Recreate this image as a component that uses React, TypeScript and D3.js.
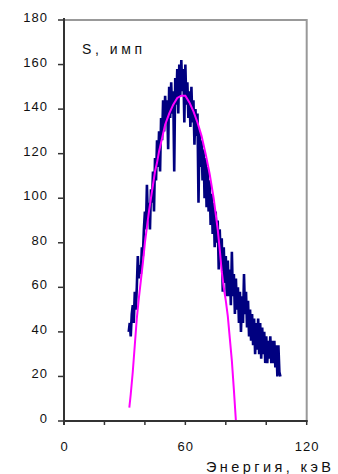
import { useEffect, useRef } from 'react';
import * as d3 from 'd3';

// measured spectrum, counts per 0.5 keV step starting at 32 keV
const spectrumStart = 32;
const spectrumStep = 0.5;
const spectrumCounts = [
  40, 44, 38, 48, 52, 44, 58, 50, 60, 74,
  64, 70, 66, 78, 74, 86, 94, 86, 106, 90,
  98, 86, 104, 98, 112, 94, 118, 108, 126, 114,
  130, 112, 136, 126, 144, 130, 146, 134, 144, 122,
  150, 136, 152, 138, 148, 112, 154, 142, 158, 138,
  160, 146, 162, 148, 158, 134, 160, 142, 152, 136,
  148, 132, 150, 134, 144, 124, 140, 128, 138, 98,
  130, 114, 126, 108, 122, 100, 118, 96, 114, 94,
  108, 88, 102, 84, 98, 78, 94, 80, 90, 68,
  86, 72, 82, 58, 78, 62, 74, 56, 72, 56,
  68, 52, 76, 56, 66, 48, 64, 50, 60, 44,
  58, 40, 56, 44, 66, 48, 58, 42, 54, 38,
  50, 36, 48, 34, 46, 30, 44, 32, 46, 30,
  44, 28, 42, 30, 40, 26, 38, 26, 36, 28,
  38, 26, 36, 26, 36, 24, 34, 20, 34, 22,
  20,
];

// fitted curve
const fitEnergy = [32.3, 33, 34, 35, 36, 37, 38, 39, 40, 41, 42, 43, 44, 45, 46, 47, 48, 49, 50, 52, 54, 56, 58, 60, 62, 64, 66, 68, 70, 72, 74, 76, 77, 78, 79, 80, 81, 82, 83, 84, 85];
const fitCounts = [6, 12, 22, 34, 46, 55, 63, 71, 80, 87, 94, 100, 106, 112, 116, 121, 125, 129, 133, 138, 142, 145, 146, 146, 143, 139, 134, 128, 120, 111, 100, 86, 77, 67, 60, 54, 47, 37, 27, 14, 0];

const yTicks = [0, 20, 40, 60, 80, 100, 120, 140, 160, 180];
const xTicks = [0, 20, 40, 60, 80, 100, 120];
const xLabels = [0, 60, 120];

const App = () => {
  const ref = useRef<SVGSVGElement | null>(null);

  useEffect(() => {
    if (!ref.current) return;
    const svg = d3.select(ref.current);
    svg.selectAll('*').remove();

    const left = 64, right = 306.7, top = 20, bottom = 421;
    const x = d3.scaleLinear().domain([0, 120]).range([left, right]);
    const y = d3.scaleLinear().domain([0, 180]).range([bottom, top]);
    const font = 'Arial, "Liberation Sans", sans-serif';

    // frame: grey top/right, dark axes
    svg.append('line').attr('x1', left).attr('x2', right).attr('y1', top).attr('y2', top)
      .attr('stroke', '#999').attr('stroke-width', 2);
    svg.append('line').attr('x1', right).attr('x2', right).attr('y1', top - 1).attr('y2', bottom)
      .attr('stroke', '#999').attr('stroke-width', 2);

    const spectrum = spectrumCounts.map((c, i) => ({ e: spectrumStart + i * spectrumStep, c }));
    const fit = fitEnergy.map((e, i) => ({ e, c: fitCounts[i] }));
    const line = d3.line<{ e: number; c: number }>().x(d => x(d.e)).y(d => y(d.c));

    svg.append('path').datum(spectrum).attr('d', line).attr('fill', 'none')
      .attr('stroke', '#000080').attr('stroke-width', 2.6).attr('stroke-linejoin', 'bevel');
    svg.append('path').datum(fit).attr('d', line).attr('fill', 'none')
      .attr('stroke', '#ff00ff').attr('stroke-width', 2);

    svg.append('line').attr('x1', left).attr('x2', left).attr('y1', top - 2).attr('y2', bottom + 4)
      .attr('stroke', '#333').attr('stroke-width', 2);
    svg.append('line').attr('x1', left - 1).attr('x2', right + 1).attr('y1', bottom).attr('y2', bottom)
      .attr('stroke', '#333').attr('stroke-width', 2);

    yTicks.forEach(t => {
      svg.append('line').attr('x1', left - 6).attr('x2', left).attr('y1', y(t)).attr('y2', y(t))
        .attr('stroke', '#333').attr('stroke-width', 1.5);
      svg.append('text').attr('x', 48).attr('y', y(t) + 2).attr('text-anchor', 'end')
        .attr('font-family', font).attr('font-size', 13).attr('letter-spacing', 1)
        .attr('fill', '#111').text(t);
    });

    xTicks.forEach(t => {
      svg.append('line').attr('x1', x(t)).attr('x2', x(t)).attr('y1', bottom).attr('y2', bottom + 4)
        .attr('stroke', '#333').attr('stroke-width', 1.5);
    });
    xLabels.forEach(t => {
      svg.append('text').attr('x', x(t) + 0.5).attr('y', 451).attr('text-anchor', 'middle')
        .attr('font-family', font).attr('font-size', 13).attr('letter-spacing', 1)
        .attr('fill', '#111').text(t);
    });

    svg.append('text').attr('x', 82).attr('y', 54).attr('font-family', font).attr('font-size', 14)
      .attr('textLength', 60).attr('lengthAdjust', 'spacing').attr('fill', '#111').text('S, имп');
    svg.append('text').attr('x', 206).attr('y', 472).attr('font-family', font).attr('font-size', 14.5)
      .attr('textLength', 125).attr('lengthAdjust', 'spacing').attr('fill', '#111').text('Энергия, кэВ');

    return () => { svg.selectAll('*').remove(); };
  }, []);

  return (
    <svg ref={ref} width={338} height={474}
      style={{ position: 'absolute', left: 0, top: 0, background: '#fff' }} />
  );
};

export default App;
